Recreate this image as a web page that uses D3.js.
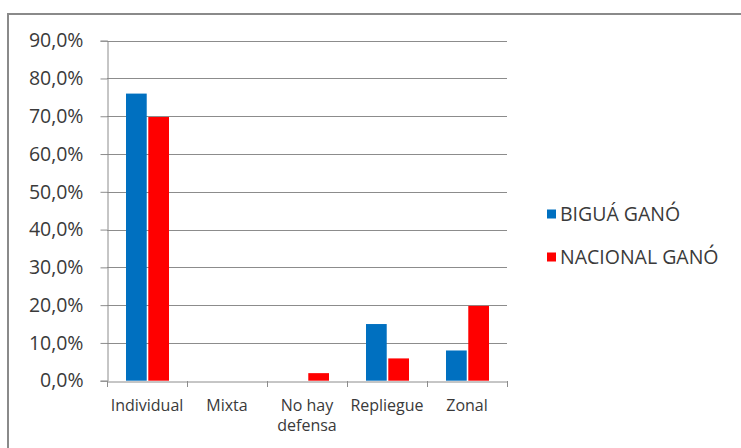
<!DOCTYPE html>
<meta charset="utf-8">
<style>
  body { margin: 0; background: #fff; }
  text { font-family: "Open Sans", "DejaVu Sans", sans-serif; fill: #3a3a3a; }
</style>
<svg width="741" height="448"></svg>
<script src="https://d3js.org/d3.v7.min.js"></script>
<script>
// data
var categories = ['Individual', 'Mixta', 'No hay defensa', 'Repliegue', 'Zonal'];
var seriesNames = ['BIGUÁ GANÓ', 'NACIONAL GANÓ'];
var bigua = [0.76, 0, 0, 0.15, 0.08];
var nacional = [0.698, 0, 0.02, 0.059, 0.198];
var yTicks = [0, 0.1, 0.2, 0.3, 0.4, 0.5, 0.6, 0.7, 0.8, 0.9];
var colors = ['#0070C0', '#FF0000'];

var svg = d3.select('svg');

// outer frame
svg.append('rect')
  .attr('x', 8).attr('y', 14).attr('width', 760).attr('height', 460)
  .attr('fill', 'none').attr('stroke', '#8a8a8a').attr('stroke-width', 2);

var plotLeft = 107, plotRight = 507, plotTop = 40.7, plotBottom = 380.7;

var x = d3.scaleBand().domain(categories).range([plotLeft, plotRight]);
var xInner = d3.scaleBand().domain(seriesNames).range([19, 62]).paddingInner(0.07);
var y = d3.scaleLinear().domain([0, 0.9]).range([plotBottom, plotTop]);

var fmt = function (d) { return d3.format('.1f')(d * 100).replace('.', ',') + '%'; };

// gridlines
svg.append('g').selectAll('line').data(yTicks.filter(function (d) { return d > 0; }))
  .enter().append('line')
  .attr('x1', plotLeft).attr('x2', plotRight)
  .attr('y1', function (d) { return Math.round(y(d)) + 0.5; })
  .attr('y2', function (d) { return Math.round(y(d)) + 0.5; })
  .attr('stroke', '#8c8c8c').attr('stroke-width', 1);

// y axis
var yAxis = svg.append('g')
  .attr('transform', 'translate(' + (plotLeft + 0.5) + ',0)')
  .call(d3.axisLeft(y).tickValues(yTicks).tickFormat(fmt).tickSize(7).tickPadding(17));
yAxis.select('.domain').attr('stroke', '#8c8c8c');
yAxis.selectAll('.tick line').attr('stroke', '#8c8c8c');
yAxis.selectAll('text').attr('font-size', 19.5).style('fill', '#3a3a3a')
  .style('font-family', '"Open Sans", "DejaVu Sans", sans-serif');

// bars
var rows = categories.map(function (c, i) { return { cat: c, vals: [bigua[i], nacional[i]] }; });
var groups = svg.append('g').selectAll('g').data(rows).enter().append('g')
  .attr('transform', function (d) { return 'translate(' + x(d.cat) + ',0)'; });
groups.selectAll('rect')
  .data(function (d) { return d.vals.map(function (v, j) { return { s: seriesNames[j], v: v, j: j }; }); })
  .enter().append('rect')
  .attr('x', function (d) { return xInner(d.s); })
  .attr('width', xInner.bandwidth())
  .attr('y', function (d) { return y(d.v); })
  .attr('height', function (d) { return plotBottom - y(d.v); })
  .attr('fill', function (d) { return colors[d.j]; });

// x axis
var xAxis = svg.append('g')
  .attr('transform', 'translate(0,' + (Math.round(plotBottom) + 0.5) + ')')
  .call(d3.axisBottom(x).tickSize(0).tickPadding(10));
xAxis.select('.domain').attr('stroke', '#8c8c8c');
xAxis.selectAll('.tick text').remove();
// category tick marks at band edges
svg.append('g').selectAll('line').data(categories.concat(['end'])).enter().append('line')
  .attr('x1', function (d, i) { return Math.round(plotLeft + i * x.step()) + 0.5; })
  .attr('x2', function (d, i) { return Math.round(plotLeft + i * x.step()) + 0.5; })
  .attr('y1', Math.round(plotBottom)).attr('y2', Math.round(plotBottom) + 6)
  .attr('stroke', '#8c8c8c');

// category labels, "No hay defensa" wrapped on two lines
var labels = svg.append('g').selectAll('text').data(categories).enter().append('text')
  .attr('text-anchor', 'middle')
  .attr('font-size', 16);
labels.each(function (d) {
  var t = d3.select(this);
  var parts = d === 'No hay defensa' ? ['No hay', 'defensa'] : [d];
  parts.forEach(function (p, i) {
    t.append('tspan').attr('x', x(d) + x.bandwidth() / 2).attr('y', 411 + i * 20).text(p);
  });
});

// legend
var legend = svg.append('g').selectAll('g').data(seriesNames).enter().append('g')
  .attr('transform', function (d, i) { return 'translate(547,' + (214 + i * 43) + ')'; });
legend.append('rect').attr('x', 0).attr('y', -4.5).attr('width', 9).attr('height', 9)
  .attr('fill', function (d, i) { return colors[i]; });
legend.append('text').attr('x', 13).attr('y', 7).attr('font-size', 19.5).text(function (d) { return d; });
</script>
